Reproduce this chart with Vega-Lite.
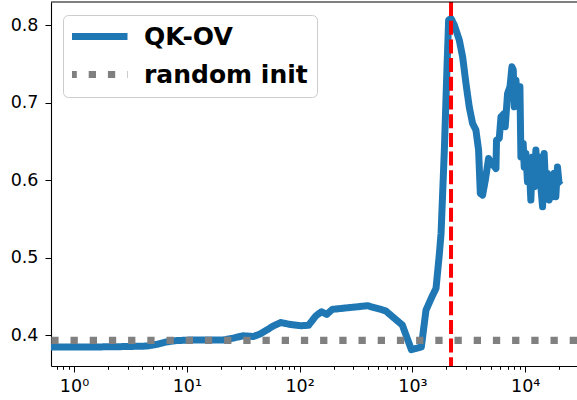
{
  "$schema": "https://vega.github.io/schema/vega-lite/v6.json",
  "width": 526,
  "height": 364,
  "autosize": {"type": "none"},
  "padding": {"left": 51, "top": 2, "right": 0, "bottom": 34},
  "background": "white",
  "config": {
    "view": {"stroke": null},
    "axis": {
      "labelFont": "DejaVu Sans",
      "labelFontSize": 17.5,
      "labelColor": "black",
      "domainColor": "black",
      "domainWidth": 1.1,
      "tickColor": "black",
      "tickWidth": 1,
      "grid": false,
      "title": null
    }
  },
  "datasets": {
    "curve": [
      {"step": 0.6, "value": 0.3849, "series": "QK-OV"},
      {"step": 1, "value": 0.3849, "series": "QK-OV"},
      {"step": 2, "value": 0.3852, "series": "QK-OV"},
      {"step": 3, "value": 0.3856, "series": "QK-OV"},
      {"step": 4.4, "value": 0.3862, "series": "QK-OV"},
      {"step": 5.5, "value": 0.3885, "series": "QK-OV"},
      {"step": 6.6, "value": 0.3915, "series": "QK-OV"},
      {"step": 8, "value": 0.3932, "series": "QK-OV"},
      {"step": 10.7, "value": 0.394, "series": "QK-OV"},
      {"step": 15, "value": 0.394, "series": "QK-OV"},
      {"step": 21, "value": 0.394, "series": "QK-OV"},
      {"step": 26, "value": 0.3965, "series": "QK-OV"},
      {"step": 31.6, "value": 0.3995, "series": "QK-OV"},
      {"step": 39, "value": 0.3985, "series": "QK-OV"},
      {"step": 45, "value": 0.402, "series": "QK-OV"},
      {"step": 51, "value": 0.4068, "series": "QK-OV"},
      {"step": 59, "value": 0.4124, "series": "QK-OV"},
      {"step": 68, "value": 0.4165, "series": "QK-OV"},
      {"step": 83, "value": 0.414, "series": "QK-OV"},
      {"step": 103, "value": 0.4124, "series": "QK-OV"},
      {"step": 120, "value": 0.413, "series": "QK-OV"},
      {"step": 139, "value": 0.4249, "series": "QK-OV"},
      {"step": 156, "value": 0.4305, "series": "QK-OV"},
      {"step": 174, "value": 0.427, "series": "QK-OV"},
      {"step": 195, "value": 0.4335, "series": "QK-OV"},
      {"step": 400, "value": 0.4382, "series": "QK-OV"},
      {"step": 578, "value": 0.4317, "series": "QK-OV"},
      {"step": 814, "value": 0.4133, "series": "QK-OV"},
      {"step": 980, "value": 0.3815, "series": "QK-OV"},
      {"step": 1200, "value": 0.385, "series": "QK-OV"},
      {"step": 1320, "value": 0.4326, "series": "QK-OV"},
      {"step": 1490, "value": 0.4497, "series": "QK-OV"},
      {"step": 1620, "value": 0.4606, "series": "QK-OV"},
      {"step": 1734, "value": 0.505, "series": "QK-OV"},
      {"step": 1795, "value": 0.5314, "series": "QK-OV"},
      {"step": 1920, "value": 0.6388, "series": "QK-OV"},
      {"step": 2027, "value": 0.746, "series": "QK-OV"},
      {"step": 2095, "value": 0.8063, "series": "QK-OV"},
      {"step": 2200, "value": 0.8085, "series": "QK-OV"},
      {"step": 2354, "value": 0.8, "series": "QK-OV"},
      {"step": 2606, "value": 0.7805, "series": "QK-OV"},
      {"step": 2788, "value": 0.759, "series": "QK-OV"},
      {"step": 2985, "value": 0.7247, "series": "QK-OV"},
      {"step": 3190, "value": 0.6946, "series": "QK-OV"},
      {"step": 3416, "value": 0.6732, "series": "QK-OV"},
      {"step": 3657, "value": 0.6646, "series": "QK-OV"},
      {"step": 3862, "value": 0.6388, "series": "QK-OV"},
      {"step": 4000, "value": 0.583, "series": "QK-OV"},
      {"step": 4190, "value": 0.5808, "series": "QK-OV"},
      {"step": 4430, "value": 0.6001, "series": "QK-OV"},
      {"step": 4735, "value": 0.628, "series": "QK-OV"},
      {"step": 5070, "value": 0.6217, "series": "QK-OV"},
      {"step": 5505, "value": 0.615, "series": "QK-OV"},
      {"step": 5570, "value": 0.6517, "series": "QK-OV"},
      {"step": 5890, "value": 0.654, "series": "QK-OV"},
      {"step": 6100, "value": 0.6817, "series": "QK-OV"},
      {"step": 6520, "value": 0.686, "series": "QK-OV"},
      {"step": 6650, "value": 0.669, "series": "QK-OV"},
      {"step": 6980, "value": 0.7119, "series": "QK-OV"},
      {"step": 7330, "value": 0.7204, "series": "QK-OV"},
      {"step": 7630, "value": 0.7461, "series": "QK-OV"},
      {"step": 7840, "value": 0.742, "series": "QK-OV"},
      {"step": 8000, "value": 0.6946, "series": "QK-OV"},
      {"step": 8280, "value": 0.729, "series": "QK-OV"},
      {"step": 8560, "value": 0.699, "series": "QK-OV"},
      {"step": 8980, "value": 0.7204, "series": "QK-OV"},
      {"step": 9160, "value": 0.63, "series": "QK-OV"},
      {"step": 9600, "value": 0.6474, "series": "QK-OV"},
      {"step": 9800, "value": 0.617, "series": "QK-OV"},
      {"step": 10140, "value": 0.6345, "series": "QK-OV"},
      {"step": 10480, "value": 0.598, "series": "QK-OV"},
      {"step": 10840, "value": 0.6217, "series": "QK-OV"},
      {"step": 11220, "value": 0.5744, "series": "QK-OV"},
      {"step": 11610, "value": 0.63, "series": "QK-OV"},
      {"step": 12020, "value": 0.5915, "series": "QK-OV"},
      {"step": 12440, "value": 0.6388, "series": "QK-OV"},
      {"step": 12850, "value": 0.6, "series": "QK-OV"},
      {"step": 13300, "value": 0.63, "series": "QK-OV"},
      {"step": 13770, "value": 0.5915, "series": "QK-OV"},
      {"step": 14250, "value": 0.5657, "series": "QK-OV"},
      {"step": 14730, "value": 0.6345, "series": "QK-OV"},
      {"step": 15250, "value": 0.583, "series": "QK-OV"},
      {"step": 15770, "value": 0.6088, "series": "QK-OV"},
      {"step": 16300, "value": 0.5744, "series": "QK-OV"},
      {"step": 16870, "value": 0.6, "series": "QK-OV"},
      {"step": 17460, "value": 0.5786, "series": "QK-OV"},
      {"step": 18070, "value": 0.6088, "series": "QK-OV"},
      {"step": 18680, "value": 0.5786, "series": "QK-OV"},
      {"step": 19330, "value": 0.617, "series": "QK-OV"},
      {"step": 19960, "value": 0.596, "series": "QK-OV"},
      {"step": 20650, "value": 0.5937, "series": "QK-OV"}
    ],
    "baseline": [
      {"value": 0.3935, "series": "random init"}
    ],
    "marker": [
      {"step": 2200}
    ]
  },
  "layer": [
    {
      "data": {"name": "curve"},
      "mark": {"type": "line", "strokeWidth": 7, "clip": true, "strokeJoin": "round", "strokeCap": "butt"},
      "encoding": {
        "x": {
          "field": "step",
          "type": "quantitative",
          "scale": {"type": "log", "domain": [0.6253, 28790], "nice": false, "zero": false},
          "axis": {
            "values": [0.7, 0.8, 0.9, 1, 2, 3, 4, 5, 6, 7, 8, 9, 10, 20, 30, 40, 50, 60, 70, 80, 90, 100, 200, 300, 400, 500, 600, 700, 800, 900, 1000, 2000, 3000, 4000, 5000, 6000, 7000, 8000, 9000, 10000, 20000],
            "labelExpr": "abs(log(datum.value)/LN10 - round(log(datum.value)/LN10)) < 0.001 ? '10' + ['⁰','¹','²','³','⁴'][round(log(datum.value)/LN10)] : ''",
            "tickSize": {"condition": {"test": "abs(log(datum.value)/LN10 - round(log(datum.value)/LN10)) < 0.001", "value": 6}, "value": 3.3},
            "labelOverlap": false,
            "labelFlush": false,
            "labelPadding": 5
          }
        },
        "y": {
          "field": "value",
          "type": "quantitative",
          "scale": {"domain": [0.3605, 0.8297], "nice": false, "zero": false},
          "axis": {"values": [0.4, 0.5, 0.6, 0.7, 0.8], "format": ".1f", "tickSize": 6, "labelPadding": 7}
        },
        "color": {
          "field": "series",
          "type": "nominal",
          "scale": {"domain": ["QK-OV", "random init"], "range": ["#1f77b4", "#808080"]},
          "legend": {
            "orient": "none",
            "legendX": 12,
            "legendY": 13,
            "title": null,
            "symbolType": "stroke",
            "symbolSize": 3364,
            "symbolStrokeWidth": 7,
            "symbolOffset": -6,
            "clipHeight": 25,
            "labelFont": "DejaVu Sans",
            "labelFontSize": 25,
            "labelFontWeight": "bold",
            "labelColor": "black",
            "labelLimit": 0,
            "labelOffset": 13,
            "fillColor": "rgba(255,255,255,0.8)",
            "strokeColor": "#cccccc",
            "cornerRadius": 5,
            "padding": 9,
            "rowPadding": 12
          }
        },
        "strokeDash": {
          "field": "series",
          "type": "nominal",
          "scale": {"domain": ["QK-OV", "random init"], "range": [[1, 0], [7.3, 11.9]]},
          "legend": null
        }
      }
    },
    {
      "data": {"name": "baseline"},
      "mark": {"type": "rule", "strokeWidth": 7.3},
      "encoding": {
        "y": {"field": "value", "type": "quantitative"},
        "color": {"field": "series", "type": "nominal"},
        "strokeDash": {"field": "series", "type": "nominal"}
      }
    },
    {
      "data": {"name": "marker"},
      "mark": {"type": "rule", "color": "#ff0000", "strokeWidth": 4, "strokeDash": [14, 4.7]},
      "encoding": {
        "x": {"field": "step", "type": "quantitative"}
      }
    },
    {
      "data": {"values": [{"top": 0.8297}]},
      "mark": {"type": "rule", "color": "black", "strokeWidth": 1.1},
      "encoding": {
        "y": {"field": "top", "type": "quantitative"}
      }
    }
  ]
}
